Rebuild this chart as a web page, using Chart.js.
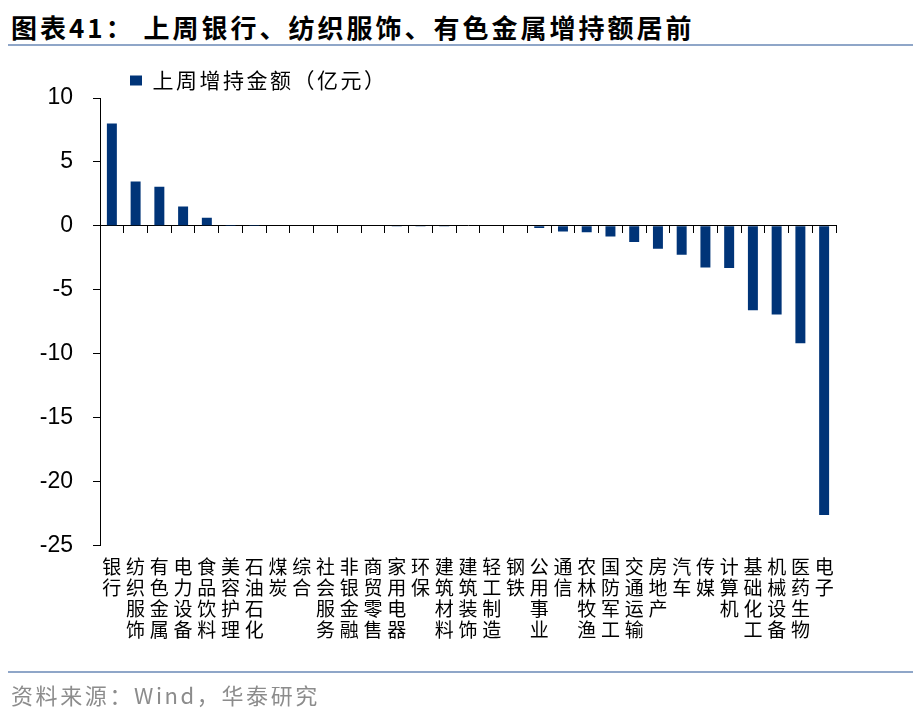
<!DOCTYPE html>
<html>
<head>
<meta charset="utf-8">
<script src="https://cdn.jsdelivr.net/npm/chart.js@4.4.0/dist/chart.umd.min.js"></script>
<style>
  body { margin: 0; width: 923px; height: 711px; background: #fff; position: relative; overflow: hidden; font-family: "Noto Sans CJK SC", sans-serif; }
  #title { position: absolute; left: 11px; top: 11px; font-size: 26px; line-height: 32px; font-weight: bold; letter-spacing: 3px; color: #000; white-space: nowrap; }
  .rule { position: absolute; left: 8px; width: 905px; height: 2px; background: #8FA6C8; }
  #src { position: absolute; left: 11px; top: 680px; font-size: 22px; line-height: 28px; letter-spacing: 2.6px; color: #8c8c8c; white-space: nowrap; }
  #wrap { position: absolute; left: 0; top: 0; width: 923px; height: 711px; }
</style>
</head>
<body>
<div id="title">图表41： 上周银行、纺织服饰、有色金属增持额居前</div>
<div class="rule" style="top:44px"></div>
<div id="wrap"><canvas id="barchart"></canvas></div>
<div class="rule" style="top:671px"></div>
<div id="src">资料来源：Wind，华泰研究</div>
<script>
// industries, each label split into single characters for the vertical labels
var industries = ['银行', '纺织服饰', '有色金属', '电力设备', '食品饮料', '美容护理', '石油石化', '煤炭', '综合', '社会服务',
	'非银金融', '商贸零售', '家用电器', '环保', '建筑材料', '建筑装饰', '轻工制造', '钢铁', '公用事业', '通信',
	'农林牧渔', '国防军工', '交通运输', '房地产', '汽车', '传媒', '计算机', '基础化工', '机械设备', '医药生物', '电子'];
// 上周增持金额（亿元）
var amounts = [8.0, 3.46, 3.06, 1.52, 0.63, 0.01, 0.01, 0.0, 0.0, 0.0,
	0.0, 0.0, -0.01, -0.01, -0.02, -0.03, -0.03, -0.04, -0.17, -0.45,
	-0.5, -0.84, -1.26, -1.8, -2.26, -3.26, -3.3, -6.6, -6.94, -9.19, -22.62];
var yTicks = { min: -25, max: 10, step: 5 };

var legendPlace = {
	id: 'legendPlace',
	afterLayout: function(chart) {
		var lg = chart.legend;
		var w = lg.width, h = lg.height;
		lg.left = 120; lg.right = 120 + w;
		lg.top = 60; lg.bottom = 60 + h;
		if (!lg._spaced) {
			var orig = lg.draw;
			lg.draw = function() {
				var c = this.ctx;
				c.save();
				c.letterSpacing = '2.5px';
				orig.apply(this, arguments);
				c.restore();
			};
			lg._spaced = true;
		}
	}
};

var ctx = document.getElementById('barchart');
var chart = new Chart(ctx, {
	type: 'bar',
	data: {
		labels: industries.map(function(s) { return s.split(''); }),
		datasets: [{
			label: '上周增持金额（亿元）',
			data: amounts,
			backgroundColor: '#003478',
			borderWidth: 0,
			categoryPercentage: 1.0,
			barPercentage: 0.42
		}]
	},
	options: {
		responsive: true,
		maintainAspectRatio: false,
		animation: false,
		layout: { padding: { top: 57, left: 0, right: 87, bottom: 68 } },
		plugins: {
			legend: {
				display: true,
				position: 'top',
				align: 'start',
				fullSize: false,
				labels: {
					boxWidth: 12,
					boxHeight: 10,
					padding: 10,
					color: '#000',
					font: { family: '"Noto Sans CJK SC"', size: 21 }
				}
			},
			tooltip: { enabled: false }
		},
		scales: {
			x: {
				position: 'bottom',
				border: { display: false },
				grid: { display: false },
				ticks: {
					autoSkip: false,
					maxRotation: 0,
					padding: 3,
					color: '#000',
					font: { family: '"Noto Sans CJK SC"', size: 19, lineHeight: 1.1 }
				}
			},
			x2: {
				type: 'category',
				position: { y: 0 },
				offset: true,
				border: { display: true, color: '#000', width: 1 },
				grid: { offset: true, drawOnChartArea: false, drawTicks: true, tickLength: 7, color: '#000' },
				ticks: { display: false }
			},
			y: {
				min: yTicks.min,
				max: yTicks.max,
				border: { display: true, color: '#000', width: 1 },
				grid: { drawOnChartArea: false, drawTicks: true, tickLength: 7, color: '#000' },
				ticks: {
					stepSize: yTicks.step,
					padding: 20,
					color: '#000',
					font: { family: '"Liberation Sans", Arial', size: 23 }
				},
				afterFit: function(scale) { scale.width = 100; }
			}
		}
	},
	plugins: [legendPlace]
});
</script>
</body>
</html>
